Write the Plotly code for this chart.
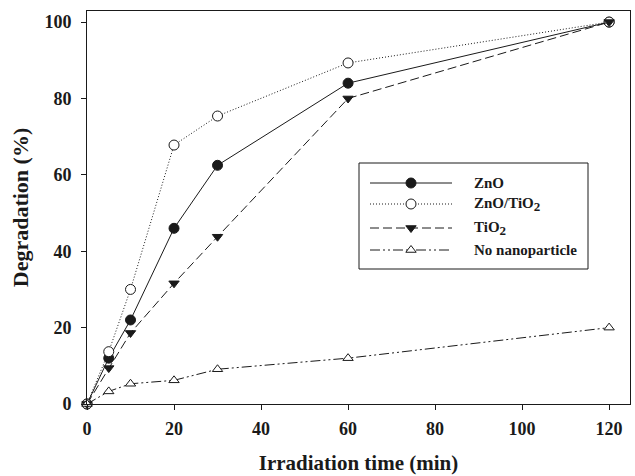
import plotly.graph_objects as go

# Irradiation time (min) and degradation (%) for each catalyst
time_min = [0, 5, 10, 20, 30, 60, 120]
zno = [0, 12, 22, 46, 62.5, 84, 100]
zno_tio2 = [0, 13.7, 30, 67.8, 75.4, 89.3, 100]
tio2 = [0, 9.4, 18.6, 31.6, 43.8, 80, 100]
no_nano = [0, 3.3, 5.3, 6.2, 9.1, 12, 20]

x_ticks = [0, 20, 40, 60, 80, 100, 120]
y_ticks = [0, 20, 40, 60, 80, 100]

SUB2 = "<sub><span style='font-size:13px'>2</span></sub>"
series_names = ["ZnO", "ZnO/TiO" + SUB2, "TiO" + SUB2, "No nanoparticle"]
series_values = [zno, zno_tio2, tio2, no_nano]

FONT = "Liberation Serif"
INK = "#1a1a1a"
styles = [
    dict(dash="solid", symbol="circle", fill=INK),
    dict(dash="1px,2px", symbol="circle", fill="white"),
    dict(dash="9px,4px", symbol="triangle-down", fill=INK),
    dict(dash="10px,3px,2px,3px,2px,3px", symbol="triangle-up", fill="white"),
]


def marker_for(st):
    return dict(symbol=st["symbol"], size=10 if st["symbol"] == "circle" else 9,
                color=st["fill"], line=dict(color=INK, width=1))


fig = go.Figure()
for name, vals, st in zip(series_names, series_values, styles):
    fig.add_trace(go.Scatter(
        x=time_min, y=vals, name=name, mode="lines+markers",
        line=dict(color=INK, width=1, dash=st["dash"]),
        marker=marker_for(st), cliponaxis=False, showlegend=False,
    ))

# Legend drawn on an overlay axis measured in plot-area pixels
L, R, T, B = 87, 630, 11, 404
leg_rows = [183, 204, 228, 250]
leg_line_x = [370, 452]
leg_marker_x = 411
leg_text_x = 472
for name, st, ry in zip(series_names, styles, leg_rows):
    fig.add_trace(go.Scatter(
        x=leg_line_x, y=[ry, ry], mode="lines", xaxis="x2", yaxis="y2",
        line=dict(color=INK, width=1, dash=st["dash"]), showlegend=False,
        hoverinfo="skip",
    ))
    fig.add_trace(go.Scatter(
        x=[leg_marker_x], y=[ry], mode="markers", xaxis="x2", yaxis="y2",
        marker=marker_for(st), showlegend=False, hoverinfo="skip",
    ))
    fig.add_annotation(x=leg_text_x, y=ry, xref="x2", yref="y2", text="<b>%s</b>" % name,
                       showarrow=False, xanchor="left", yanchor="middle",
                       font=dict(family=FONT, size=15, color=INK))

fig.add_shape(type="rect", xref="x2", yref="y2", x0=359, x1=588, y0=163, y1=269,
              line=dict(color=INK, width=1), fillcolor="rgba(0,0,0,0)")

axis_font = dict(family=FONT, size=18, color=INK)
fig.update_layout(
    width=635, height=476,
    margin=dict(l=L, r=635 - R, t=T, b=476 - B),
    paper_bgcolor="white", plot_bgcolor="white",
    font=dict(family=FONT, color=INK),
    xaxis=dict(
        range=[0, 124.8], tickvals=x_ticks,
        ticktext=["<b>%d</b>" % v for v in x_ticks],
        ticks="outside", ticklen=5, tickcolor=INK, tickfont=axis_font,
        ticklabelstandoff=3,
        showline=True, linecolor=INK, linewidth=1, mirror=True,
        showgrid=False, zeroline=False,
        title=dict(text="<b>Irradiation time (min)</b>", font=dict(family=FONT, size=21, color=INK), standoff=17),
    ),
    yaxis=dict(
        range=[0, 102.9], tickvals=y_ticks,
        ticktext=["<b>%d</b>" % v for v in y_ticks],
        ticks="outside", ticklen=5, tickcolor=INK, tickfont=axis_font,
        ticklabelstandoff=6,
        showline=True, linecolor=INK, linewidth=1, mirror=True,
        showgrid=False, zeroline=False,
        title=dict(text="<b>Degradation (%)</b>", font=dict(family=FONT, size=22, color=INK), standoff=9),
    ),
    xaxis2=dict(overlaying="x", range=[L, R], visible=False, domain=[0, 1]),
    yaxis2=dict(overlaying="y", range=[B, T], visible=False, domain=[0, 1]),
)

fig.write_html("out.html")
